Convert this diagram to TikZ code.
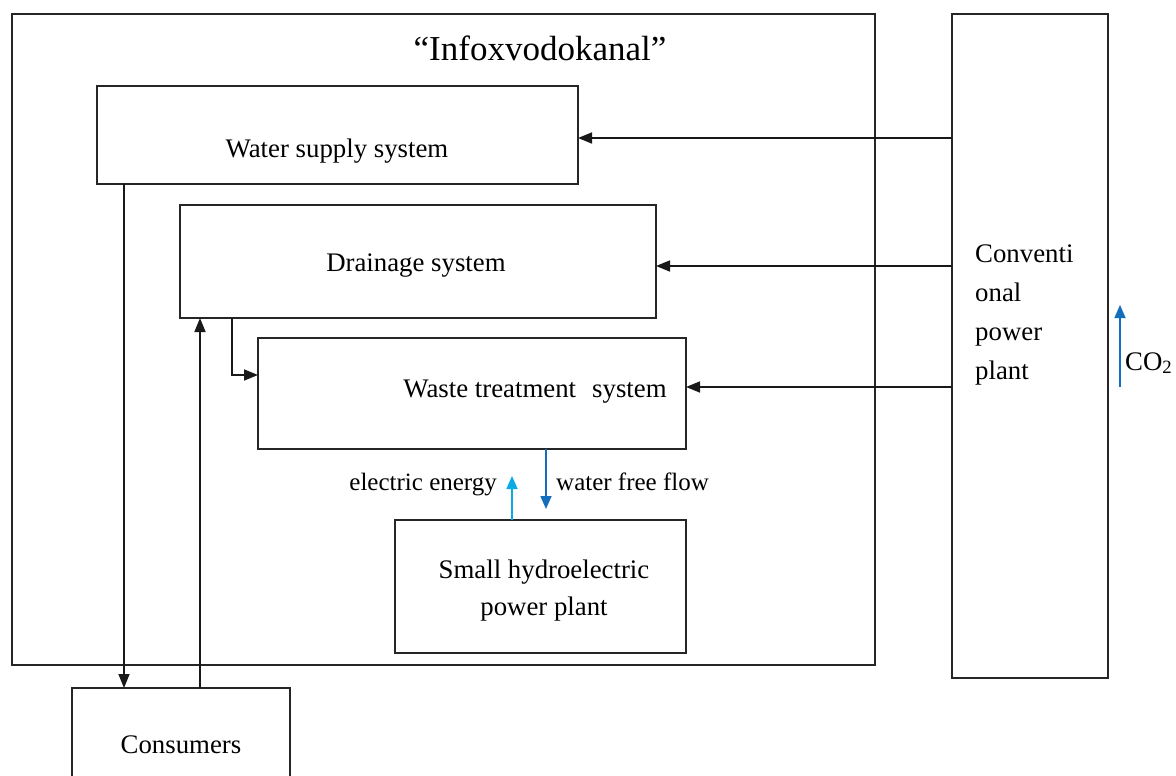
\documentclass[tikz,border=0pt]{standalone}
\usepackage{fontspec}
\setmainfont{Liberation Serif}
\usetikzlibrary{arrows.meta}
\begin{document}
\begin{tikzpicture}[x=1pt,y=-1pt,
  box/.style={draw=black!85,line width=1.8pt},
  conn/.style={draw=black!90,line width=1.6pt,-{Triangle[length=14pt,width=11pt]}},
  blueconn/.style={line width=1.6pt,-{Triangle[length=13pt,width=11pt]}},
  lbl/.style={font=\fontsize{26.8}{39}\selectfont,inner sep=0pt},
  small/.style={font=\fontsize{25}{30}\selectfont,inner sep=0pt}]
\definecolor{lightblue}{RGB}{10,170,230}
\definecolor{darkblue}{RGB}{20,110,190}
\useasboundingbox (0,0) rectangle (1176,776);
\clip (0,0) rectangle (1176,776);
\fill[white] (0,0) rectangle (1176,776);
% outer box
\draw[box] (12,14) rectangle (875,665);
\node[font=\fontsize{35}{42}\selectfont,inner sep=0pt,anchor=base] (title) at (540,61) {“Infoxvodokanal”};
% boxes
\draw[box] (97,86) rectangle (578,184);
\node[lbl,anchor=base] (ws) at (337,157) {Water supply system};
\coordinate (wsR) at (578,138);
\draw[box] (180,205) rectangle (656,318);
\node[lbl,anchor=base] (dr) at (416,271) {Drainage system};
\coordinate (drR) at (656,266);
\draw[box] (258,338) rectangle (686,449);
\node[lbl,anchor=base] (wt) at (535,397) {Waste treatment\hspace{0.35em} system};
\coordinate (wtR) at (686,387);
\draw[box] (395,520) rectangle (686,653);
\node[lbl,align=center,font=\fontsize{26.8}{37}\selectfont] (sh) at (544,591) {Small hydroelectric\\power plant};
\draw[box] (952,14) rectangle (1108,678);
\node[lbl,align=left,anchor=north west] (cp) at (975,245) {Conventi\\onal\\power\\plant};
\draw[box] (72,688) rectangle (290,800);
\node[lbl,anchor=base] (cons) at (181,753) {Consumers};
% connectors
\coordinate (cpA) at (952,138);
\coordinate (cpB) at (952,266);
\coordinate (cpC) at (952,387);
\draw[conn] (cpA) -- (wsR);
\draw[conn] (cpB) -- (drR);
\draw[conn] (cpC) -- (wtR);
\coordinate (wsB) at (124,184);
\coordinate (consT) at (124,688);
\draw[conn] (wsB) -- (consT);
\coordinate (consT2) at (200,688);
\coordinate (drB) at (200,318);
\draw[conn] (consT2) -- (drB);
\coordinate (drB2) at (232,318);
\coordinate (wtL) at (258,375);
\draw[conn] (drB2) |- (wtL);
% blue arrows
\coordinate (shT) at (512,520);
\coordinate (ee) at (512,476);
\draw[blueconn,draw=lightblue,color=lightblue] (shT) -- (ee);
\coordinate (wtB) at (546,449);
\coordinate (wf) at (546,509);
\draw[blueconn,draw=darkblue,color=darkblue] (wtB) -- (wf);
\node[small,anchor=base east] (eel) at (497,490) {electric energy};
\node[small,anchor=base west] (wfl) at (556,490) {water free flow};
\coordinate (co2a) at (1120,387);
\coordinate (co2b) at (1120,305);
\draw[blueconn,draw=darkblue,color=darkblue] (co2a) -- (co2b);
\node[lbl,anchor=base west] (co2) at (1125,370) {CO\textsubscript{2}};
\end{tikzpicture}
\end{document}
